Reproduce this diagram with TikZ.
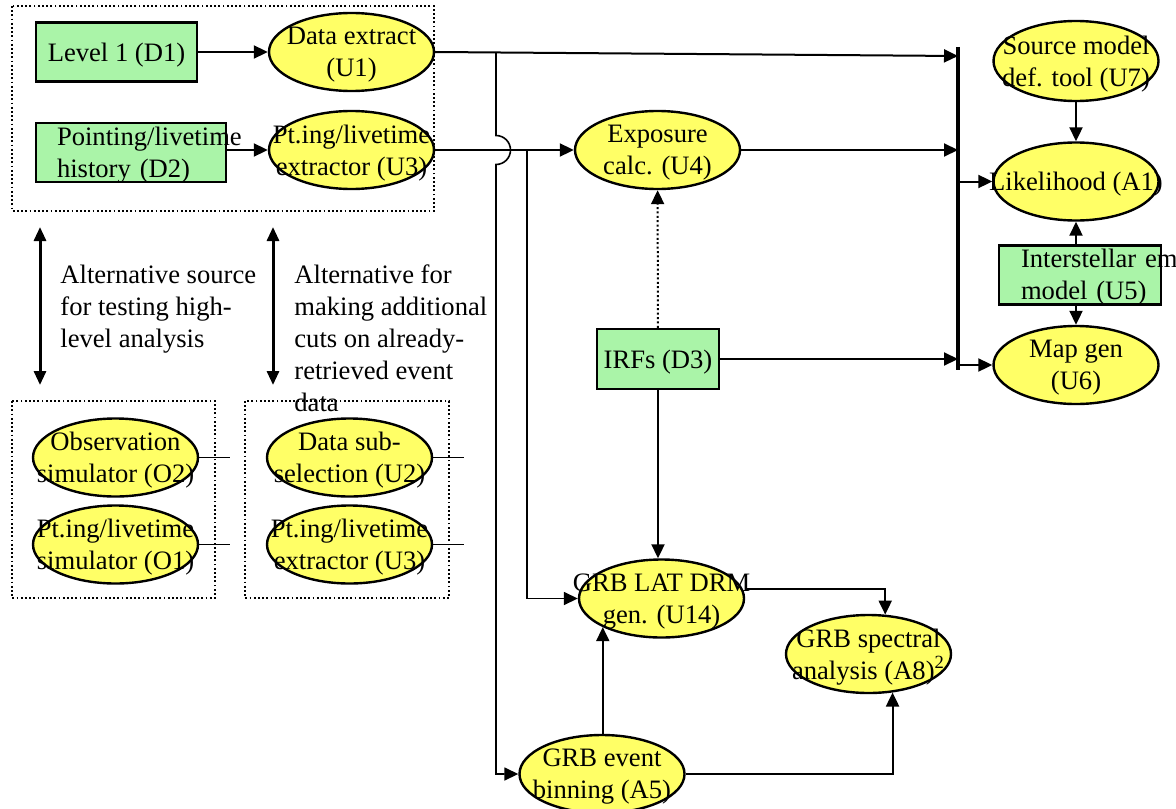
\documentclass[tikz,border=0pt]{standalone}
\usepackage{fontspec}
\setmainfont{Liberation Serif}
\usetikzlibrary{shapes.geometric,arrows.meta}

\definecolor{procyellow}{RGB}{255,255,102}
\definecolor{storegreen}{RGB}{170,244,168}
\hyphenpenalty=10000
\exhyphenpenalty=10000

\tikzset{
  proc/.style={ellipse, draw, line width=1.2pt, fill=procyellow,
    minimum width=82.5pt, minimum height=39pt,
    inner xsep=-20pt, inner ysep=-3pt, text depth=-2.5pt, align=center},
  store/.style={rectangle, draw, line width=1.2pt, fill=storegreen,
    minimum height=29.5pt, inner ysep=0pt, text depth=-1.5pt, align=center},
  wide store/.style={store, align=left, text depth=16.5pt},
  flow/.style={-{Triangle[length=7pt,width=6.5pt]}, line width=1pt},
  bus/.style={-{Triangle[length=7pt,width=6.5pt]}, line width=0.8pt},
  stub/.style={line width=0.7pt},
  grpbox/.style={line width=0.9pt, dash pattern=on 0.9pt off 1.2pt},
  dblarrow/.style={{Triangle[length=7pt,width=6pt]}-{Triangle[length=7pt,width=6pt]}, line width=1.5pt},
  note/.style={align=left, anchor=base west, inner sep=0pt}
}

\begin{document}
\begin{tikzpicture}[x=0.5pt, y=-0.5pt, font=\fontsize{13.3}{16}\selectfont]
  \useasboundingbox (0,0) rectangle (1176,808);

  % dotted groups
  \draw[grpbox] (12,6) rectangle (434,211);
  \draw[grpbox] (12,401) rectangle (215,598);
  \draw[grpbox] (245,401) rectangle (449,598);

  % data
  \node[store, minimum width=80.5pt] (d1) at (116.5,52) {Level 1 (D1)};
  \node[wide store, text width=74pt, inner xsep=10.5pt] (d2) at (131,152.5) {Pointing/livetime\\history~(D2)};
  \node[store, minimum width=59pt, minimum height=30pt] (d3) at (658,359) {IRFs (D3)};
  \node[wide store, text width=59pt, inner xsep=11pt] (u5) at (1080,275) {Interstellar~em\\model~(U5)};

  % tools
  \node[proc] (u1) at (351.5,52) {Data extract\\(U1)};
  \node[proc] (u3) at (351.5,150) {Pt.ing/livetime\\extractor (U3)};
  \node[proc] (u4) at (657.5,150) {Exposure\\calc. (U4)};
  \node[proc, minimum height=40pt] (u7) at (1076,61) {Source model\\def. tool (U7)};
  \node[proc] (a1) at (1076,181.5) {Likelihood (A1)};
  \node[proc] (u6) at (1076,365) {Map gen\\(U6)};

  \node[proc] (o2) at (115.5,457.5) {Observation\\simulator (O2)};
  \node[proc] (o1) at (115.5,544.5) {Pt.ing/livetime\\simulator (O1)};
  \node[proc] (u2) at (349.5,457.5) {Data sub-\\selection (U2)};
  \node[proc] (u3b) at (349.5,544.5) {Pt.ing/livetime\\extractor (U3)};

  \node[proc] (u14) at (661.5,598.5) {GRB LAT DRM\\gen. (U14)};
  \node[proc] (a8) at (868.5,654) {GRB spectral\\analysis (A8)\textsuperscript{2}};
  \node[proc] (a5) at (602,774) {GRB event\\binning (A5)};

  % notes (anchored on the last line)
  \node[note] (alt1) at (60,347) {Alternative source\\for testing high-\\level analysis};
  \node[note] (alt2) at (294,411) {Alternative for\\making additional\\cuts on already-\\retrieved event\\data};
  \draw[dblarrow] (40,227) -- (40,385);
  \draw[dblarrow] (273,227) -- (273,385);

  % input bar
  \coordinate (bartop) at (958,47);
  \coordinate (barbot) at (958,370);
  \coordinate (in1) at (958,56);
  \coordinate (tap1) at (496,53);
  \coordinate (tap2) at (527,150);
  \draw[line width=1.8pt] (bartop) -- (barbot);

  \draw[flow] (d1) -- (u1);
  \draw[flow] (d2.east |- u3) -- (u3);
  \draw[flow] (u3) -- (u4);
  \draw[flow] (u1.east) -- (in1);
  \draw[flow] (u4) -- (u4 -| bartop);
  \draw[flow] (d3) -- (d3 -| bartop);
  \draw[flow] (a1 -| bartop) -- (a1);
  \draw[flow] (u6 -| bartop) -- (u6);
  \draw[flow] (u7) -- (a1);
  \draw[flow] (u5.north -| a1) -- (a1);
  \draw[flow] (u5.south -| u6) -- (u6);

  \draw[flow, dash pattern=on 1pt off 1.2pt] (d3) -- (u4);
  \draw[flow] (d3) -- (d3 |- u14.north);
  \draw[flow] ([yshift=4.75pt]u14.east) -| (a8.67);
  \draw[flow] (u14.206 |- a5.north) -- (u14.206);
  \draw[flow] (a5) -| (a8.302);

  \draw[bus] (tap1) -- ++(0,82.5) arc[start angle=-90, end angle=90, radius=14.5] |- (a5);
  \draw[bus] (tap2) |- (u14);

  % loose ends
  \draw[stub] (o2.east) -- ++(31,0);
  \draw[stub] (o1.east) -- ++(31,0);
  \draw[stub] (u2.east) -- ++(31,0);
  \draw[stub] (u3b.east) -- ++(31,0);

\end{tikzpicture}
\end{document}
